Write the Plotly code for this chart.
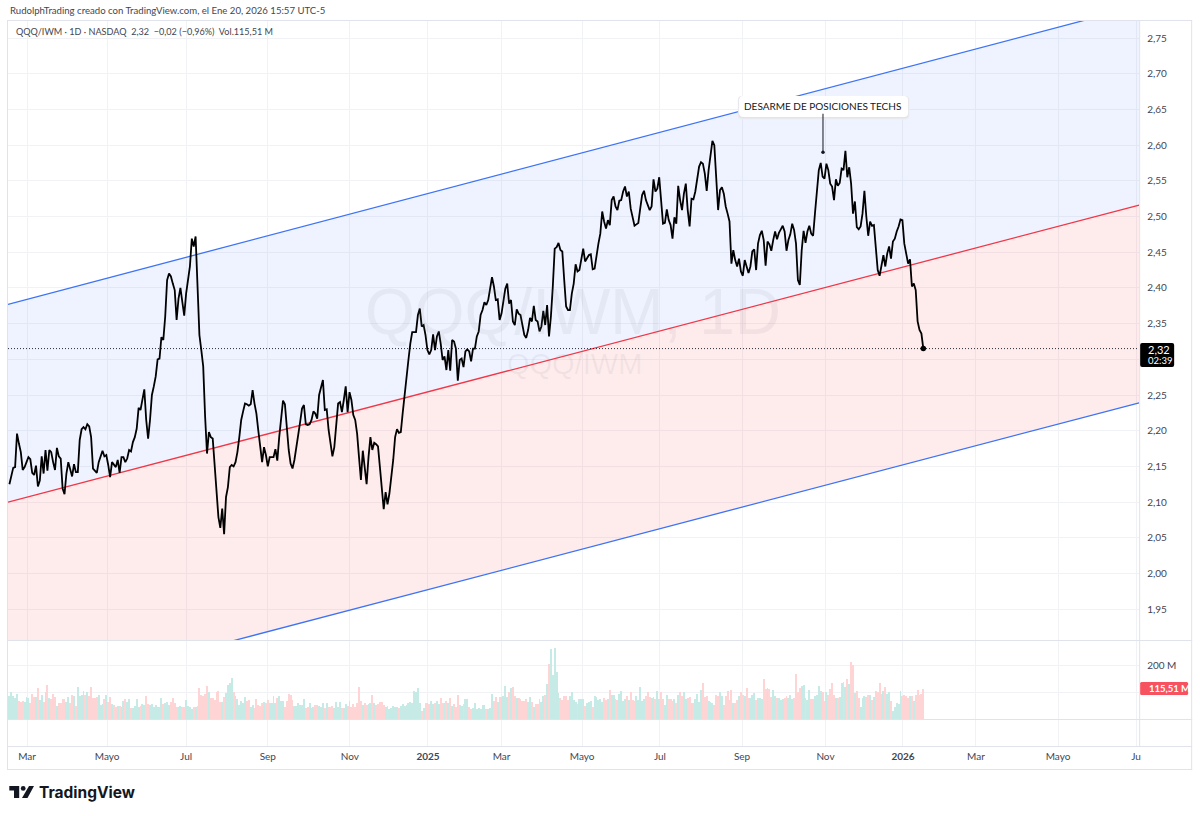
import numpy as np
import plotly.graph_objects as go

close = [
2.125,2.138,2.148,2.149,2.196,2.182,2.170,2.145,2.149,2.156,2.163,2.160,2.141,2.138,2.151,2.122,2.130,2.164,2.140,2.173,
2.144,2.173,2.170,2.156,2.145,2.176,2.164,2.161,2.119,2.111,2.140,2.156,2.145,2.136,2.153,2.142,2.142,2.187,2.202,2.205,
2.202,2.209,2.206,2.191,2.147,2.144,2.141,2.156,2.163,2.172,2.164,2.166,2.152,2.135,2.156,2.152,2.149,2.159,2.141,2.163,
2.163,2.156,2.161,2.173,2.171,2.184,2.191,2.203,2.232,2.229,2.243,2.258,2.215,2.189,2.215,2.250,2.262,2.276,2.300,2.301,
2.331,2.327,2.360,2.411,2.420,2.416,2.406,2.397,2.355,2.385,2.400,2.376,2.361,2.392,2.411,2.430,2.469,2.458,2.472,2.406,
2.334,2.313,2.290,2.220,2.168,2.198,2.191,2.189,2.154,2.112,2.079,2.064,2.091,2.055,2.107,2.121,2.149,2.152,2.150,2.156,
2.170,2.191,2.215,2.227,2.238,2.237,2.235,2.237,2.257,2.238,2.224,2.200,2.173,2.156,2.177,2.166,2.150,2.163,2.163,2.163,2.174,2.158,
2.191,2.217,2.242,2.237,2.201,2.173,2.154,2.147,2.159,2.180,2.194,2.212,2.231,2.236,2.209,2.208,2.209,2.215,2.227,2.224,2.217,2.250,
2.262,2.271,2.229,2.230,2.201,2.183,2.164,2.177,2.205,2.238,2.240,2.226,2.243,2.262,2.226,2.254,2.243,2.222,2.215,2.196,2.163,2.131,
2.172,2.149,2.125,2.163,2.191,2.173,2.183,2.181,2.178,2.149,2.114,2.090,2.114,2.097,2.112,2.135,2.159,2.191,2.202,2.197,
2.198,2.225,
2.252,2.276,2.299,2.322,2.338,2.338,2.338,2.362,2.371,2.346,2.348,2.334,2.313,2.307,2.313,2.335,2.313,2.332,2.339,2.322,
2.299,2.304,2.285,2.313,2.284,2.327,2.325,2.315,2.270,2.299,2.301,2.289,2.311,2.314,2.311,2.297,2.315,2.315,2.332,2.339,
2.362,2.369,2.380,2.376,2.383,2.399,2.415,2.402,2.383,2.384,2.355,2.364,2.381,2.399,2.406,2.378,2.383,2.353,2.348,2.370,
2.364,2.362,2.348,2.334,2.330,2.341,2.358,2.353,2.375,2.355,2.353,2.339,2.346,2.368,2.348,2.376,2.332,2.360,2.402,2.455,
2.457,2.463,2.453,2.451,2.411,2.374,2.369,2.369,2.392,2.406,2.433,2.423,2.425,2.441,2.455,2.437,2.441,2.446,2.447,2.426,
2.427,2.448,2.462,2.476,2.507,2.493,2.483,2.495,2.488,2.523,2.528,2.514,2.509,2.522,2.523,2.535,2.542,2.528,2.535,2.511,2.497,
2.487,2.489,2.491,2.511,2.530,2.536,2.523,2.516,2.509,2.514,2.552,2.535,2.539,2.555,2.521,2.490,2.491,2.510,2.495,2.488,
2.469,2.499,2.490,2.543,2.523,2.509,2.532,2.546,2.509,2.486,2.525,2.524,2.535,2.551,2.570,2.576,
2.574,2.560,2.536,2.565,2.588,2.606,2.600,2.556,2.509,2.537,2.541,2.532,2.514,2.504,2.493,2.434,2.453,2.439,2.430,2.441,
2.423,2.417,2.439,2.430,2.421,2.430,2.451,2.454,2.425,2.462,2.474,2.480,2.467,2.431,2.465,2.461,2.452,2.467,2.479,2.468,
2.477,2.482,2.487,2.479,2.452,2.467,2.475,2.490,2.481,2.462,2.411,2.404,2.453,2.480,2.463,2.479,2.487,2.476,2.473,2.505,2.537,
2.565,2.575,2.556,2.553,2.574,2.565,2.546,2.542,2.523,2.552,2.543,2.547,2.567,2.565,2.592,2.555,2.569,2.546,2.504,2.521,
2.485,2.482,2.486,2.504,2.536,2.500,2.473,2.493,2.487,2.488,2.455,2.425,2.417,2.430,2.446,2.430,2.448,2.458,2.441,2.465,
2.469,2.479,2.486,2.496,2.495,2.462,2.448,2.434,2.440,2.402,2.406,2.397,2.353,2.341,2.336,2.315,
]

volume_m = [
88,104,86,79,96,70,65,69,67,84,82,63,96,83,83,117,73,92,65,103,130,80,75,96,83,50,60,60,78,78,67,83,63,92,86,50,
120,86,92,108,92,101,88,121,79,79,83,92,54,57,77,92,64,83,58,54,48,50,50,45,69,77,65,75,42,44,50,77,48,50,58,54,86,58,54,58,48,54,48,48,81,58,60,65,54,67,82,63,48,45,50,45,48,73,50,48,38,48,45,50,
117,92,86,96,126,104,81,79,73,104,108,67,67,83,98,130,136,156,
104,88,75,54,70,63,83,70,73,45,54,42,75,54,52,60,67,60,73,60,60,88,60,79,88,69,69,48,70,96,92,73,50,52,60,54,54,75,44,48,60,44,48,54,54,52,48,60,44,60,48,46,50,44,67,48,67,42,44,58,50,69,48,58,46,60,
121,69,54,60,54,58,60,92,60,54,58,65,64,54,48,52,39,42,50,45,48,42,52,
58,52,54,63,67,60,108,104,117,63,33,42,63,63,58,69,58,63,69,58,82,63,63,70,60,79,50,58,45,91,54,52,58,78,78,48,39,43,60,39,44,39,54,54,38,38,42,96,70,83,64,83,
83,86,126,83,101,117,123,88,82,79,76,70,69,75,65,84,67,48,57,58,75,66,88,92,132,209,262,165,267,
177,100,82,73,88,89,73,88,103,73,64,57,75,78,75,50,60,65,70,48,88,83,73,75,66,79,73,78,111,92,91,75,73,94,108,70,75,86,73,101,73,69,86,73,120,70,75,88,103,83,80,83,75,108,75,104,75,54,91,75,75,70,75,63,92,104,88,103,75,81,83,60,60,75,96,64,111,
136,83,86,70,67,60,54,91,86,104,86,54,86,107,73,111,63,63,73,86,103,92,86,117,79,81,91,98,73,79,82,75,
150,113,117,113,83,111,88,79,79,72,75,79,86,79,92,75,82,
171,104,117,
125,129,79,73,110,75,76,88,91,125,106,104,70,102,90,114,138,91,79,80,84,138,141,122,150,132,215,204,100,105,81,45,81,88,85,91,92,73,85,107,104,135,97,107,120,97,104,70,33,47,60,57,105,89,92,89,81,89,89,70,91,110,91,95,115.51,
]

price_ticks = [1.95,2.00,2.05,2.10,2.15,2.20,2.25,2.30,2.35,2.40,2.45,2.50,2.55,2.60,2.65,2.70,2.75]
volume_ticks = [100,200]
volume_tick_labels = ["","200 M"]
month_labels = ["Mar","Mayo","Jul","Sep","Nov","2025","Mar","Mayo","Jul","Sep","Nov","2026","Mar","Mayo","Ju"]
month_bars = [9.3,51.4,93,136,179.2,220.3,259,301.4,342.4,385.6,429.5,470.3,508.7,551.9,593]

channel_bars = [-0.74,594.6]
channel_upper = [2.377,2.795]
channel_mid = [2.100,2.516]
channel_lower = [1.823,2.239]
LAST_BAR = 481
note_bar, note_price = 428.2, 2.590

bars_c = np.arange(LAST_BAR-len(close)+1, LAST_BAR+1)
bars_v = np.arange(LAST_BAR-len(volume_m)+1, LAST_BAR+1)
closes_for_vol = close[-len(volume_m):] if len(close) >= len(volume_m) else [close[0]]*(len(volume_m)-len(close))+close
vol_colors = ["#FFD4D4" if (i>0 and closes_for_vol[i]<closes_for_vol[i-1]) else "#C6EBE6" for i in range(len(volume_m))]

W, H = 1200, 816
FONT = "Lato"
DARK = "#131722"
GREY = "#434651"
GRID = "#F1F2F5"
EDGE = "#E0E3EB"
px = lambda x: min(x*1.0018/W,1)
py = lambda y: 1-y/H

fig = go.Figure()
fig.add_trace(go.Scatter(x=channel_bars,y=channel_upper,mode="lines",line=dict(color="#3D73F5",width=1.3),xaxis="x",yaxis="y",hoverinfo="skip"))
fig.add_trace(go.Scatter(x=channel_bars,y=channel_mid,mode="lines",line=dict(color="#F23645",width=1.3),fill="tonexty",fillcolor="rgba(41,98,255,0.075)",xaxis="x",yaxis="y",hoverinfo="skip"))
fig.add_trace(go.Scatter(x=channel_bars,y=channel_lower,mode="lines",line=dict(color="#3D73F5",width=1.3),fill="tonexty",fillcolor="rgba(242,54,69,0.10)",xaxis="x",yaxis="y",hoverinfo="skip"))
fig.add_trace(go.Scatter(x=channel_bars,y=[close[-1]]*2,mode="lines",line=dict(color=DARK,width=0.9,dash="1px 2px"),xaxis="x",yaxis="y"))
fig.add_trace(go.Scatter(x=bars_c,y=close,mode="lines",line=dict(color="#000000",width=1.8,shape="linear"),xaxis="x",yaxis="y"))
fig.add_trace(go.Scatter(x=[bars_c[-1]],y=[close[-1]],mode="markers",marker=dict(color="#000000",size=5.5),xaxis="x",yaxis="y"))
fig.add_trace(go.Scatter(x=[note_bar],y=[note_price],mode="markers",marker=dict(color=DARK,size=3.5),xaxis="x",yaxis="y"))
fig.add_trace(go.Bar(x=bars_v,y=volume_m,marker=dict(color=vol_colors,line=dict(width=0)),width=0.5,xaxis="x2",yaxis="y2"))

def rrect(x0,y0,x1,y1,r):
    return (f"M {px(x0+r)},{py(y0)} L {px(x1-r)},{py(y0)} Q {px(x1)},{py(y0)} {px(x1)},{py(y0+r)} "
            f"L {px(x1)},{py(y1-r)} Q {px(x1)},{py(y1)} {px(x1-r)},{py(y1)} L {px(x0+r)},{py(y1)} "
            f"Q {px(x0)},{py(y1)} {px(x0)},{py(y1-r)} L {px(x0)},{py(y0+r)} Q {px(x0)},{py(y0)} {px(x0+r)},{py(y0)} Z")

shapes = []
def hline(y,x0=8,x1=1192):
    shapes.append(dict(type="line",xref="paper",yref="paper",x0=px(x0),x1=px(x1),y0=py(y),y1=py(y),line=dict(color=EDGE,width=1),layer="above"))
def vline(x,y0,y1):
    shapes.append(dict(type="line",xref="paper",yref="paper",x0=px(x),x1=px(x),y0=py(y0),y1=py(y1),line=dict(color=EDGE,width=1),layer="above"))
hline(20.5); hline(640.5); hline(719.5); hline(746.5); hline(769.5)
vline(7.5,20,770); vline(1139.5,20,747); vline(1191.5,20,770)

for off,col in ((2.5,"#ECEDF1"),(1.2,"#E0E3E8")):
    shapes.append(dict(type="path",xref="paper",yref="paper",path=rrect(739-off/2,96,908+off/2,117+off,4),fillcolor=col,line=dict(width=0),layer="above"))
shapes.append(dict(type="path",xref="paper",yref="paper",path=rrect(739,96,908,117,4),fillcolor="#FFFFFF",line=dict(width=0),layer="above"))
shapes.append(dict(type="path",xref="paper",yref="paper",path=rrect(1140,343,1174,367,2),fillcolor="#000000",line=dict(width=0),layer="above"))
shapes.append(dict(type="path",xref="paper",yref="paper",path=rrect(1140,682,1188,695,1.5),fillcolor="#F7525F",line=dict(width=0),layer="above"))

def poly(pts):
    return "M "+" L ".join(f"{px(a)},{py(b)}" for a,b in pts)+" Z"
for pts in ([(9.3,786),(19.2,786),(19.2,798),(14,798),(14,790.6),(9.3,790.6)],
            [(29,786),(34,786),(27.5,798),(22,798)]):
    shapes.append(dict(type="path",xref="paper",yref="paper",path=poly(pts),fillcolor="#131722",line=dict(width=0),layer="above"))
shapes.append(dict(type="circle",xref="paper",yref="paper",x0=px(20.8),x1=px(25.6),y0=py(790.8),y1=py(786),fillcolor="#131722",line=dict(width=0),layer="above"))

def text(t,x,y,size,color=DARK,anchor="left",font=FONT):
    return dict(text=t,xref="paper",yref="paper",x=px(x),y=py(y),xanchor=anchor,yanchor="middle",showarrow=False,
                font=dict(family=font,size=size,color=color))

annotations = [
    text("QQQ/IWM, 1D",573,312,64,"rgba(120,123,134,0.09)","center","Liberation Sans"),
    text("QQQ/IWM",574,364,29,"rgba(120,123,134,0.09)","center","Liberation Sans"),
    text("RudolphTrading creado con TradingView.com, el Ene 20, 2026 15:57 UTC-5",8,11,9.6,GREY),
    text("QQQ/IWM · 1D · NASDAQ&nbsp;&nbsp;2,32&nbsp;&nbsp;−0,02 (−0,96%)&nbsp;&nbsp;Vol.115,51 M",14,32,9.1,GREY),
    text("2,32",1146,349,11,"#FFFFFF"),
    text("02:39",1146,360.5,9.5,"#FFFFFF"),
    text("<b>115,51 M</b>",1147,688.5,9.5,"#FFFFFF"),
    text("<b>TradingView</b>",37,792,15.5,"#131722","left","Inter"),
    dict(text="DESARME DE POSICIONES TECHS",x=note_bar,y=note_price,xref="x",yref="y",ax=0,ay=-46,showarrow=True,arrowhead=0,
         arrowwidth=1,arrowcolor=DARK,font=dict(family=FONT,size=10,color=DARK),standoff=0),
]

month_text = [f"<b>{m}</b>" if m.isdigit() else m for m in month_labels]
xrange_ = [channel_bars[0],channel_bars[1]]
common_x = dict(range=xrange_,tickmode="array",tickvals=month_bars,showgrid=True,gridcolor=GRID,gridwidth=1,zeroline=False,showline=False,ticks="")

fig.update_layout(
    width=W,height=H,margin=dict(l=0,r=0,t=0,b=0),paper_bgcolor="#FFFFFF",plot_bgcolor="#FFFFFF",
    showlegend=False,separators=",.",bargap=0,hovermode=False,
    xaxis=dict(common_x,domain=[px(8),px(1139)],anchor="y",showticklabels=False),
    xaxis2=dict(common_x,domain=[px(8),px(1139)],anchor="y2",ticktext=month_text,showticklabels=True,
                tickfont=dict(family=FONT,size=10,color=GREY),ticklabelstandoff=2),
    yaxis=dict(domain=[py(640),py(20)],range=[2.75-602/714,2.75+18/714],side="right",anchor="x",tickmode="array",tickvals=price_ticks,
               ticktext=[f"{v:.2f}".replace(".",",") if abs(v-2.30)>1e-6 else "" for v in price_ticks],
               showgrid=True,gridcolor=GRID,zeroline=False,showline=False,ticks="",
               tickfont=dict(family=FONT,size=10,color=GREY),ticklabelstandoff=7),
    yaxis2=dict(domain=[py(746.7),py(640)],range=[-101.7,297],side="right",anchor="x2",tickmode="array",tickvals=volume_ticks,ticktext=volume_tick_labels,
                showgrid=True,gridcolor=GRID,zeroline=False,showline=False,ticks="",
                tickfont=dict(family=FONT,size=10,color=GREY),ticklabelstandoff=7),
    shapes=shapes,annotations=annotations,
)
fig.write_html("out.html",config=dict(displayModeBar=False,responsive=False),
               post_script="document.documentElement.style.overflow='hidden';document.body.style.cssText='margin:0;overflow:hidden;width:1200px;height:816px';var d=document.querySelector('.plotly-graph-div');d.style.position='absolute';d.style.left='0';d.style.top='0';")
